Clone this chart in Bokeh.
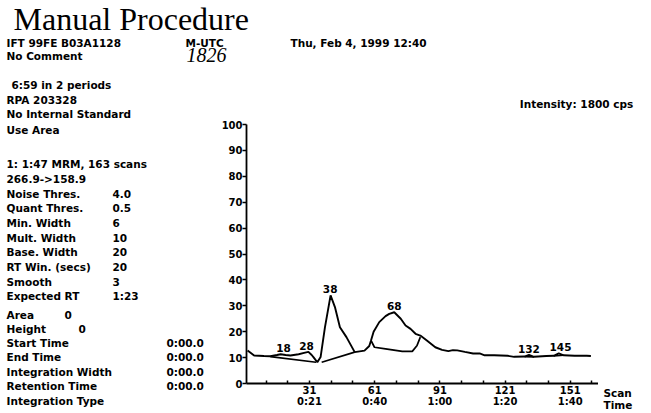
from bokeh.plotting import figure
from bokeh.models import Range1d, LinearAxis, FixedTicker, Label, ColumnDataSource, LabelSet
from bokeh.core.properties import value
from bokeh.layouts import column, row
from bokeh.embed import file_html
from bokeh.resources import INLINE

# ---------------- data ----------------
scan = [2.5, 5.5, 10, 13, 16, 17.7, 20, 22.2, 26, 28.5, 30.5, 32, 32.8, 34.6, 36.1, 38.1,
        40.7, 42.7, 45, 48, 51.8, 56.3, 58.5, 59.3, 60.5, 63.1, 66, 67.7, 70, 73, 75.2,
        77.5, 79.8, 82, 85, 88.9, 92, 94.9, 97, 99, 102.5, 106.3, 109.3, 111.6, 116,
        122.2, 125.2, 130, 132, 134.3, 140, 143.4, 145.7, 148, 153, 158.6, 160.5]
intensity = [12.7, 10.8, 10.6, 10.5, 11.0, 11.3, 11.0, 10.8, 11.3, 11.8, 12.2, 11.0, 10.2,
             8.2, 10.2, 21.7, 34.0, 29.5, 21.7, 17.9, 12.1, 12.7, 14.5, 16.6, 20.0, 23.7,
             26.0, 26.9, 27.5, 25.0, 22.4, 21.1, 19.2, 18.5, 16.6, 14.0, 13.0, 12.5, 12.9,
             12.8, 12.2, 11.6, 11.6, 10.9, 10.9, 10.7, 10.3, 10.4, 11.0, 10.3, 10.6, 10.7,
             11.6, 10.9, 10.7, 10.7, 10.6]

# integration baselines / second trace segments
base_scans = [[13, 34.0], [36.6, 51.8],
              [59.3, 60.9, 66, 73.7, 78.3, 80.5, 82],
              [130, 134.3], [143.4, 148]]
base_values = [[10.4, 8.2], [8.2, 12.1],
               [16.6, 14.0, 13.4, 12.4, 12.4, 14.7, 17.9],
               [10.4, 10.3], [10.7, 10.9]]

peak_names = ["18", "28", "38", "68", "132", "145"]
peak_scan = [19, 29.6, 40.5, 70, 132, 146.5]
peak_height = [11.3, 12.2, 34.0, 27.5, 11.0, 11.6]

y_ticks = list(range(0, 101, 10))
scan_ticks = list(range(1, 162, 10))
scan_labels = {31: "31", 61: "61", 91: "91", 121: "121", 151: "151"}
time_labels = {31: "0:21", 61: "0:40", 91: "1:00", 121: "1:20", 151: "1:40"}
axis_names = ["Scan", "Time"]

title_text = "Manual Procedure"
header_left = ["IFT  99FE B03A1128", "No Comment"]
header_mid = "M-UTC"
header_date = "Thu, Feb 4, 1999 12:40"
handwritten = "1826"
info_rows = ["6:59 in 2 periods", "RPA 203328", "No Internal Standard", "Use Area"]
intensity_text = "Intensity:  1800  cps"
trans_rows = ["1: 1:47 MRM, 163 scans", "266.9->158.9"]
param_names = ["Noise Thres.", "Quant Thres.", "Min. Width", "Mult. Width",
               "Base. Width", "RT Win. (secs)", "Smooth", "Expected RT"]
param_values = ["4.0", "0.5", "6", "10", "20", "20", "3", "1:23"]
area_names = ["Area", "Height"]
area_values = ["0", "0"]
result_names = ["Start Time", "End Time", "Integration Width", "Retention Time", "Integration Type"]
result_values = ["0:00.0", "0:00.0", "0:00.0", "0:00.0", ""]

# ---------------- layout (page pixels) ----------------
PW, PH = 651, 413
HEAD_H = 119                 # header strip height
FL, FR, FT, FB = 243, 598, 124, 383   # chart frame in page px
LEFT_W = 218                 # left text panel width
RIGHT_W = PW - FR            # right strip ("Scan"/"Time")
CH_W = PW - LEFT_W - RIGHT_W
CH_H = PH - HEAD_H
X0, X1 = 2, 164

FONT = "DejaVu Sans"
TXT = "10.5px"
TICK = "10px"


def blank(w, h, x0, x1, y0, y1):
    f = figure(width=w, height=h, output_backend="svg", toolbar_location=None,
               x_range=Range1d(x0, x1), y_range=Range1d(y1, y0),
               min_border=0, x_axis_type=None, y_axis_type=None, frame_align=False)
    f.outline_line_color = None
    f.xgrid.visible = False
    f.ygrid.visible = False
    f.border_fill_color = "white"
    f.background_fill_color = "white"
    return f


def lab(f, text, px, py, size=TXT, font=FONT, style="bold", align="left", baseline="middle"):
    f.add_layout(Label(x=px, y=py, text=text, text_font=font, text_font_size=size,
                       text_font_style=style, text_align=align, text_baseline=baseline,
                       text_color="black"))


# header
head = blank(PW, HEAD_H, 0, PW, 0, HEAD_H)
lab(head, title_text, 13, 18, size="32px", font="Liberation Serif", style="normal")
lab(head, header_left[0], 6, 42)
lab(head, header_mid, 185, 42)
lab(head, header_date, 290, 42)
lab(head, header_left[1], 6, 55)
lab(head, handwritten, 186, 54, size="20px", font="Liberation Serif", style="italic")
lab(head, info_rows[0], 11, 84)
lab(head, info_rows[1], 6, 99)
lab(head, info_rows[2], 6, 113)
lab(head, intensity_text, 640, 103, align="right")

# left text column
left = blank(LEFT_W, CH_H, 0, LEFT_W, HEAD_H, PH)
lab(left, info_rows[3], 6, 129)
lab(left, trans_rows[0], 6, 163)
lab(left, trans_rows[1], 6, 178)
for i, (n, v) in enumerate(zip(param_names, param_values)):
    yy = 193 + 14.7 * i
    lab(left, n, 6, yy)
    lab(left, v, 112, yy)
lab(left, area_names[0], 6, 314)
lab(left, area_values[0], 64, 314)
lab(left, area_names[1], 6, 328)
lab(left, area_values[1], 78, 328)
for i, (n, v) in enumerate(zip(result_names, result_values)):
    yy = 342 + 14.6 * i
    lab(left, n, 6, yy)
    if v:
        lab(left, v, 166, yy)

# chart
p = figure(width=CH_W, height=CH_H, output_backend="svg", toolbar_location=None,
           x_range=Range1d(X0, X1), y_range=Range1d(0, 100),
           min_border_left=FL - LEFT_W, min_border_right=0,
           min_border_top=FT - HEAD_H, min_border_bottom=PH - FB,
           x_axis_type=None, y_axis_type=None, frame_align=False)
p.outline_line_color = None
p.xgrid.visible = False
p.ygrid.visible = False
p.background_fill_color = "white"
p.border_fill_color = "white"

yax = LinearAxis(ticker=FixedTicker(ticks=y_ticks))
yax.major_tick_out = 4
yax.major_tick_in = 0
yax.minor_tick_line_color = None
yax.axis_line_width = 1.8
yax.major_tick_line_width = 1.5
yax.major_label_text_font = FONT
yax.major_label_text_font_style = "bold"
yax.major_label_text_font_size = TICK
yax.major_label_standoff = 0
yax.major_label_text_color = "black"
p.add_layout(yax, "left")

xax = LinearAxis(ticker=FixedTicker(ticks=scan_ticks))
xax.major_label_overrides = {t: scan_labels.get(t, "") for t in scan_ticks}
xax.major_tick_in = 3
xax.major_tick_out = 0
xax.minor_tick_line_color = None
xax.axis_line_width = 1.8
xax.major_tick_line_width = 1.5
xax.major_label_text_font = FONT
xax.major_label_text_font_style = "bold"
xax.major_label_text_font_size = TICK
xax.major_label_standoff = 2
xax.major_label_text_color = "black"
p.add_layout(xax, "below")

tax = LinearAxis(ticker=FixedTicker(ticks=list(time_labels.keys())))
tax.major_label_overrides = time_labels
tax.axis_line_color = None
tax.major_tick_line_color = None
tax.minor_tick_line_color = None
tax.major_tick_in = 0
tax.major_tick_out = 0
tax.major_label_text_font = FONT
tax.major_label_text_font_style = "bold"
tax.major_label_text_font_size = TICK
tax.major_label_standoff = -1
tax.major_label_text_color = "black"
p.add_layout(tax, "below")

p.line(scan, intensity, line_color="black", line_width=1.9)
p.multi_line(base_scans, base_values, line_color="black", line_width=1.7)

src = ColumnDataSource(dict(x=peak_scan, y=peak_height, t=peak_names))
p.add_layout(LabelSet(x="x", y="y", text="t", source=src, text_align="center",
                      text_baseline="bottom", y_offset=2, text_font=value(FONT),
                      text_font_style="bold", text_font_size=TXT, text_color="black"))

# right strip with axis names
right = blank(RIGHT_W, CH_H, FR, PW, HEAD_H, PH)
lab(right, axis_names[0], 603, 392)
lab(right, axis_names[1], 603, 404)

layout = column(head, row(left, p, right, spacing=0), spacing=0)
open("out.html", "w").write(file_html(layout, INLINE))
